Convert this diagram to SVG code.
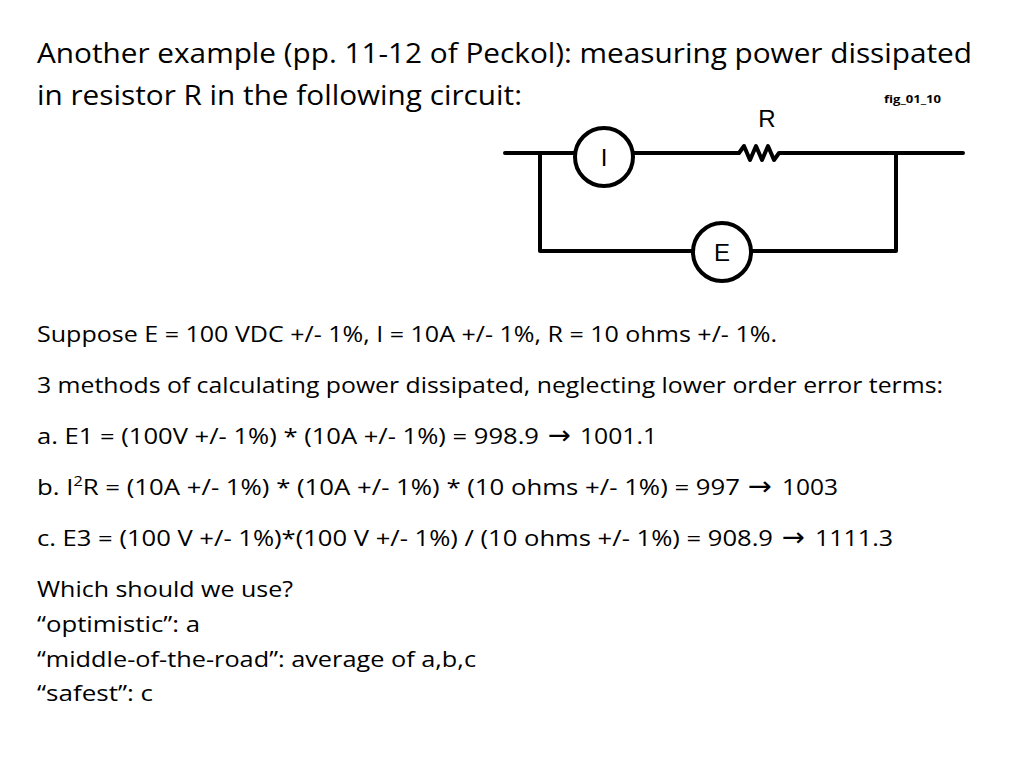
<svg xmlns="http://www.w3.org/2000/svg" width="1024" height="768" viewBox="0 0 1024 768">
<style>
.t{font-family:"Open Sans","Liberation Sans",sans-serif;fill:#000}
.h{font-size:28px}.b{font-size:22px}
.ar{font-family:"DejaVu Sans",sans-serif;font-size:26px}
.w{stroke:#000;stroke-width:4;fill:none;stroke-linecap:round;stroke-linejoin:round}
.m{stroke:#000;stroke-width:4;fill:#fff}
.c{font-family:"Liberation Sans",sans-serif;font-size:24px;text-anchor:middle}
</style>
<rect width="1024" height="768" fill="#fff"/>
<text class="t h" x="37" y="63" textLength="935" lengthAdjust="spacingAndGlyphs">Another example (pp. 11-12 of Peckol): measuring power dissipated</text>
<text class="t h" x="37" y="105" textLength="485" lengthAdjust="spacingAndGlyphs">in resistor R in the following circuit:</text>
<text class="t" x="884" y="103" font-size="11" font-weight="bold" textLength="57" lengthAdjust="spacingAndGlyphs">fig_01_10</text>
<g id="connectors">
<path class="w" d="M505,153 H963 M540,153 V251 H896 V153"/>
</g>
<g id="R"><rect x="736" y="140" width="44" height="26" fill="#fff"/><path class="w" d="M736,153 h3 l5,-7 l6,14 l6,-14 l6,14 l6,-14 l6,14 l5,-7 h3"/><text class="c" x="767" y="127" font-size="22">R</text></g>
<g id="I"><circle class="m" cx="604" cy="157" r="29"/><text class="c" x="604" y="166">I</text></g>
<g id="E"><circle class="m" cx="722" cy="252" r="29"/><text class="c" x="722" y="261">E</text></g>
<text class="t b" x="37" y="342" textLength="740" lengthAdjust="spacingAndGlyphs">Suppose E = 100 VDC +/- 1%, I = 10A +/- 1%, R = 10 ohms +/- 1%.</text>
<text class="t b" x="37" y="393" textLength="906" lengthAdjust="spacingAndGlyphs">3 methods of calculating power dissipated, neglecting lower order error terms:</text>
<text class="t b" x="37" y="444" textLength="502" lengthAdjust="spacingAndGlyphs">a. E1 = (100V +/- 1%) * (10A +/- 1%) = 998.9</text>
<text class="ar" x="548" y="444" textLength="23" lengthAdjust="spacingAndGlyphs">→</text>
<text class="t b" x="580" y="444" textLength="77" lengthAdjust="spacingAndGlyphs">1001.1</text>
<text class="t b" x="37" y="495" textLength="703" lengthAdjust="spacingAndGlyphs">b. I<tspan font-size="14" dy="-9">2</tspan><tspan dy="9">R = (10A +/- 1%) * (10A +/- 1%)  * (10 ohms +/- 1%) = 997</tspan></text>
<text class="ar" x="748" y="495" textLength="24" lengthAdjust="spacingAndGlyphs">→</text>
<text class="t b" x="782" y="495" textLength="56" lengthAdjust="spacingAndGlyphs">1003</text>
<text class="t b" x="37" y="546" textLength="736" lengthAdjust="spacingAndGlyphs">c. E3 = (100 V +/- 1%)*(100 V +/- 1%) / (10 ohms +/- 1%) = 908.9</text>
<text class="ar" x="782" y="546" textLength="23" lengthAdjust="spacingAndGlyphs">→</text>
<text class="t b" x="815" y="546" textLength="78" lengthAdjust="spacingAndGlyphs">1111.3</text>
<text class="t b" x="37" y="597" textLength="256" lengthAdjust="spacingAndGlyphs">Which should we use?</text>
<text class="t b" x="37" y="632" textLength="163" lengthAdjust="spacingAndGlyphs">“optimistic”: a</text>
<text class="t b" x="37" y="667" textLength="439" lengthAdjust="spacingAndGlyphs">“middle-of-the-road”: average of a,b,c</text>
<text class="t b" x="37" y="701" textLength="116" lengthAdjust="spacingAndGlyphs">“safest”: c</text>
</svg>
